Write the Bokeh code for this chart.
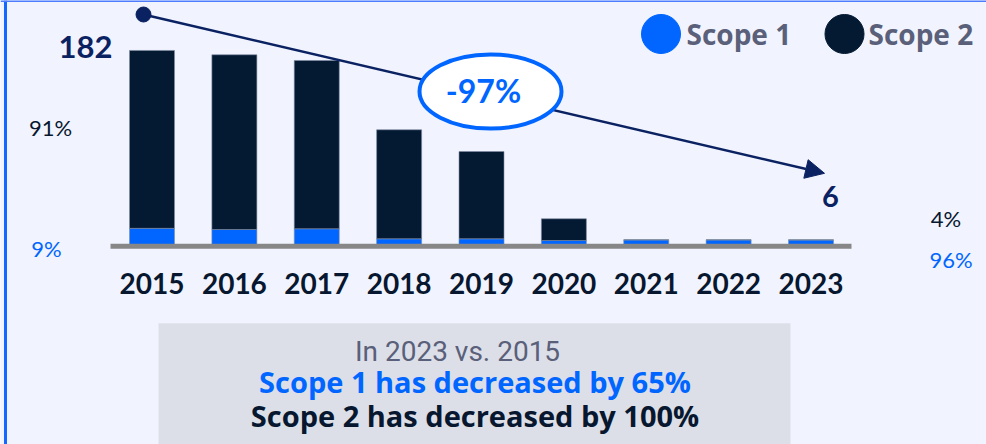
from bokeh.plotting import figure
from bokeh.models import Range1d, ColumnDataSource, Arrow, NormalHead
from bokeh.core.properties import value
from bokeh.embed import file_html
from bokeh.resources import INLINE

# ---- data ----
years = ["2015", "2016", "2017", "2018", "2019", "2020", "2021", "2022", "2023"]
scope1 = [16.7, 15.6, 16.3, 7.0, 7.0, 5.4, 5.9, 5.9, 5.8]
scope2 = [165.3, 162.4, 156.4, 101.3, 81.1, 20.2, 0.1, 0.1, 0.2]
total_first = 182
total_last = 6
change_label = "-97%"
share_first = {"Scope 2": "91%", "Scope 1": "9%"}
share_last = {"Scope 2": "4%", "Scope 1": "96%"}
summary = ["In 2023 vs. 2015", "Scope 1 has decreased by 65%", "Scope 2 has decreased by 100%"]

# ---- styling / layout helpers ----
W, H = 986, 444
BG = "#F1F4FE"
BLUE = "#0066FF"
NAVY = "#041A33"
DNAVY = "#0B2262"
GRAY_TXT = "#5A6079"

X0, STEP = 151.5, 82.375          # pixel of first bar centre, pixels per category
BASE, K = 245.8, 1.076            # pixel of zero line, pixels per unit


def X(px):
    return (px - X0) / STEP


def Y(py):
    return (BASE - py) / K


def TY(py, fs):
    # text baseline position (pixel) corrected for renderer offset
    return Y(py - 0.38 * fs)


xs = list(range(len(years)))

p = figure(width=W, height=H, output_backend="svg", toolbar_location=None,
           x_range=Range1d(X(0), X(W)), y_range=Range1d(Y(H), Y(0)),
           x_axis_type=None, y_axis_type=None, min_border=0,
           margin=(0, -8, -8, 0))
p.grid.visible = False
p.outline_line_color = None
p.background_fill_color = BG
p.border_fill_color = BG

src = ColumnDataSource(dict(x=xs, years=years, s1=scope1, s2=scope2))
p.vbar_stack(["s1", "s2"], x="x", width=45 / STEP, source=src,
             color=[BLUE, NAVY], line_color="#7f8ba3", line_width=0.6)

# baseline
p.segment(x0=[X(110)], y0=[0], x1=[X(851)], y1=[0], line_color="#878787", line_width=5)

# year labels
p.text(x="x", y=TY(294, 28), text="years", source=src, text_font=value("Lato"),
       text_font_size="28px", text_font_style="bold", text_color="#07172F",
       text_align="center", text_baseline="alphabetic")

# trend line with dot and arrow
p.scatter(x=[X(143)], y=[Y(14)], size=15, color=DNAVY)
p.add_layout(Arrow(x_start=X(143), y_start=Y(14), x_end=X(824), y_end=Y(172.8),
                   line_color=DNAVY, line_width=2.5,
                   end=NormalHead(size=19, fill_color=DNAVY, line_color=DNAVY)))

ell = p.ellipse(x=[X(490)], y=[Y(91)], width=[142 / STEP], height=[74 / K],
                fill_color="white", line_color=BLUE, line_width=4)
ell.level = "overlay"
t = p.text(x=[X(483)], y=[TY(102, 32)], text=[change_label], text_font=value("Lato"),
           text_font_size="32px", text_font_style="bold", text_color=BLUE,
           text_align="center", text_baseline="alphabetic")
t.level = "overlay"

# totals
p.text(x=[X(85)], y=[TY(58, 31)], text=[str(total_first)], text_font=value("Lato"),
       text_font_size="31px", text_font_style="bold", text_color=DNAVY,
       text_align="center", text_baseline="alphabetic")
p.text(x=[X(830)], y=[TY(207.5, 29)], text=[str(total_last)], text_font=value("Lato"),
       text_font_size="29px", text_font_style="bold", text_color=DNAVY,
       text_align="center", text_baseline="alphabetic")

# shares
p.text(x=[X(50), X(945.5)], y=[TY(135, 22), TY(226, 22)],
       text=[share_first["Scope 2"], share_last["Scope 2"]], text_font=value("Lato"),
       text_font_size="22px", text_color="#07172F", text_align="center",
       text_baseline="alphabetic")
p.text(x=[X(46), X(950.5)], y=[TY(256.5, 22), TY(267, 22)],
       text=[share_first["Scope 1"], share_last["Scope 1"]], text_font=value("Lato"),
       text_font_size="22px", text_color=BLUE, text_align="center",
       text_baseline="alphabetic")

# legend
p.scatter(x=[X(660.5), X(844)], y=[Y(33.5), Y(33.5)], size=39, color=[BLUE, NAVY])
p.text(x=[X(686), X(868)], y=[TY(44, 28), TY(44, 28)], text=["Scope 1", "Scope 2"],
       text_font=value("Open Sans"), text_font_size="28px", text_font_style="bold",
       text_color=GRAY_TXT, text_align="left", text_baseline="alphabetic")

# summary box
p.quad(left=[X(158)], right=[X(790)], top=[Y(322.7)], bottom=[Y(470)],
       fill_color="#DCDFE8", line_color=None)
p.text(x=[X(457)], y=[TY(361.5, 28)], text=[summary[0]], text_font=value("Roboto"),
       text_font_size="28px", text_color=GRAY_TXT, text_align="center",
       text_baseline="alphabetic")
p.text(x=[X(474.5), X(474.5)], y=[TY(391.7, 29), TY(426, 29)], text=summary[1:],
       text_font=value("Open Sans"), text_font_size="29px", text_font_style="bold",
       text_color=[BLUE, "#07172F"], text_align="center", text_baseline="alphabetic")

# frame edges
p.segment(x0=[X(5)], y0=[Y(0)], x1=[X(5)], y1=[Y(H)], line_color="#1468FF", line_width=3)
p.segment(x0=[X(0)], y0=[Y(0.5)], x1=[X(W)], y1=[Y(0.5)], line_color="#4D7CFE", line_width=2)

open("out.html", "w").write(file_html(p, INLINE))
